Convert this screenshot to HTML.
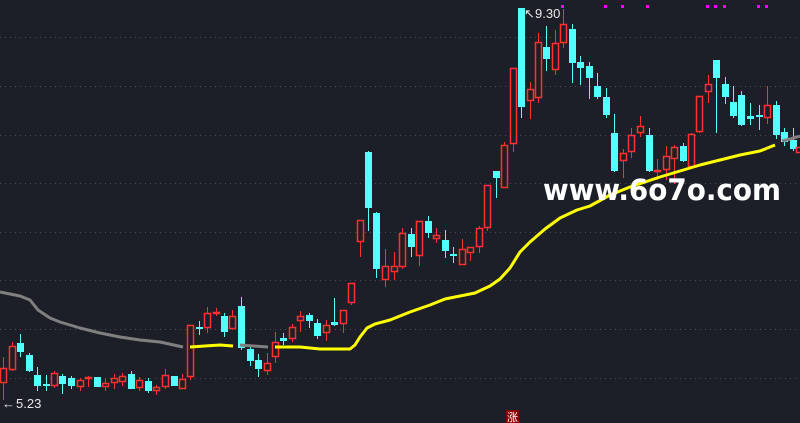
<!DOCTYPE html>
<html><head><meta charset="utf-8"><style>
html,body{margin:0;padding:0;background:#1c1f27;}
svg{display:block}
</style></head><body>
<svg id="s" width="800" height="423" xmlns="http://www.w3.org/2000/svg" style="background:#1c1f27">
<g stroke="#4a4e58" stroke-width="1" stroke-dasharray="1,4">
<line x1="0" y1="37.5" x2="800" y2="37.5"/><line x1="0" y1="86.5" x2="800" y2="86.5"/>
<line x1="0" y1="135.5" x2="800" y2="135.5"/><line x1="0" y1="183.5" x2="800" y2="183.5"/>
<line x1="0" y1="232.5" x2="800" y2="232.5"/><line x1="0" y1="280.5" x2="800" y2="280.5"/>
<line x1="0" y1="329.5" x2="800" y2="329.5"/><line x1="0" y1="378.5" x2="800" y2="378.5"/>
</g>
<g id="c"></g>
<g fill="none" stroke-width="3" stroke-linejoin="round">
<polyline stroke="#808080" points="0,292 10,294 20,296 30,300 38,310 50,318 60,322 80,328 100,333 120,337 140,340 160,342 183,347"/>
<polyline stroke="#ffff00" points="190,347 205,346 220,345 233,346"/>
<polyline stroke="#808080" points="240,345 268,347"/>
<polyline stroke="#ffff00" points="275,347 300,347 320,349 350,349 355,345 360,337 367,328 375,324 390,320 410,312 430,305 445,299 460,296 475,293 490,286 500,279 510,268 520,252 530,242 545,229 560,218 577,210 590,206 610,195 630,187 660,177 700,165 740,155 760,151 775,145"/>
<polyline stroke="#808080" points="782,141 790,139 800,136"/>
</g>
<g fill="#ff00ff">
<rect x="561" y="5" width="3" height="3"/><rect x="604" y="5" width="3" height="3"/><rect x="621" y="5" width="3" height="3"/><rect x="646" y="5" width="3" height="3"/><rect x="706" y="5" width="3" height="3"/><rect x="714" y="5" width="3" height="3"/><rect x="723" y="5" width="3" height="3"/><rect x="757" y="5" width="3" height="3"/><rect x="765" y="5" width="3" height="3"/>
</g>
<g font-family="Liberation Sans, sans-serif" font-size="13" fill="#e8e8e8">
<text x="524" y="18">↖</text><text x="535" y="18">9.30</text>
<text x="2" y="408">←</text><text x="16" y="408">5.23</text>
</g>
<text x="543" y="200" font-family="DejaVu Sans, sans-serif" font-weight="bold" font-size="29" fill="#ffffff" textLength="238" lengthAdjust="spacingAndGlyphs">www.6o7o.com</text>
<rect x="506" y="410" width="13" height="13" fill="#8b0000"/>
<text x="507" y="421" font-family="Noto Sans CJK SC, sans-serif" font-size="11" fill="#fff">涨</text>
</svg>
<script>
var d=[
[3,'r',368,383,357,400],[12,'r',346,370,342,371],[20,'c',343,352,334,357],[29,'c',355,371,353,372],[37,'c',375,386,367,391],[46,'c',384,385,375,391],[54,'r',373,386,371,388],[62,'c',376,384,374,394],[71,'c',378,386,376,389],[80,'r',380,387,378,391],[88,'r',377,379,376,387],[97,'c',377,387,377,387],[105,'r',383,387,378,391],[114,'r',378,383,374,389],[122,'r',376,382,373,386],[131,'c',374,389,371,389],[139,'r',380,388,377,391],[148,'c',381,391,378,393],[156,'r',387,391,385,395],[165,'r',375,387,369,389],[174,'c',376,386,376,386],[182,'r',379,389,374,389],
[190,'r',325,377,325,380],[199,'c',327,328,321,335],[207,'r',313,328,307,333],[216,'r',312,313,308,316],[224,'c',316,332,313,337],[232,'r',316,329,310,330],[241,'c',306,348,297,350],[250,'c',349,361,345,366],[258,'c',360,369,354,377],[267,'r',363,371,353,375],[275,'r',342,357,332,363],[283,'c',338,341,333,345],[292,'r',327,339,324,342],[300,'r',316,321,311,332],[309,'c',315,321,313,328],[317,'c',323,336,319,339],[326,'r',325,333,320,341],[334,'c',322,325,298,326],[343,'r',310,324,310,333],[351,'r',283,303,283,305],[360,'r',220,242,220,257],[368,'c',152,208,151,231],[376,'c',213,269,212,278],[385,'r',266,280,249,287],[394,'r',266,272,252,280],[402,'r',233,267,228,269],[411,'c',234,247,228,257],[419,'r',221,256,221,266],[428,'c',221,233,216,238],[436,'r',235,239,228,243],[445,'c',240,251,230,258],[453,'c',254,256,247,263],[462,'r',249,265,239,265],[470,'r',247,253,247,261],[479,'r',228,247,226,253],[487,'r',185,228,185,231],[496,'c',171,178,171,198],[504,'r',145,188,142,188],[513,'r',68,144,68,152],[521,'c',8,107,8,118],[530,'r',89,101,82,119],[538,'r',42,98,33,103],[546,'c',47,59,26,71],[555,'r',43,70,30,75],[563,'r',24,43,9,48],[572,'c',29,63,24,83],[580,'c',62,68,56,85],[589,'c',66,78,62,99],[597,'c',86,97,73,99],[606,'c',97,115,88,118],[614,'c',133,171,114,172],[623,'r',153,161,149,178],[631,'r',135,152,128,158],[640,'r',126,133,116,137],[649,'c',135,171,128,172],[657,'r',170,172,159,180],[666,'r',156,170,146,180],[674,'r',147,159,145,184],[683,'c',146,161,143,162],[691,'r',134,167,133,169],[699,'r',96,132,96,133],[708,'r',84,92,75,103],[716,'c',60,78,60,133],[725,'c',84,97,77,104],[733,'c',102,116,86,118],[741,'c',95,125,91,126],[750,'c',116,119,103,125],[759,'c',115,117,105,130],[767,'r',105,118,86,124],[776,'c',105,135,101,139],[784,'c',132,142,128,146],[793,'c',140,149,128,151],[799,'r',147,153,147,153]];
var h='';d.forEach(function(a){var x=a[0],col=a[1]=='r'?'#ff3030':'#54ffff',t=a[2],b=a[3];
h+='<line x1="'+(x+.5)+'" x2="'+(x+.5)+'" y1="'+a[4]+'" y2="'+a[5]+'" stroke="'+col+'" stroke-width="1"/>';
if(b-t<2)b=t+2;
if(a[1]=='r')h+='<rect x="'+(x-2.5)+'" y="'+(t+.5)+'" width="6" height="'+(b-t-1)+'" fill="#1c1f27" stroke="'+col+'" stroke-width="1.5"/>';
else h+='<rect x="'+(x-3)+'" y="'+t+'" width="7" height="'+(b-t)+'" fill="'+col+'"/>';});
document.getElementById('c').innerHTML=h;
</script>
</body></html>
